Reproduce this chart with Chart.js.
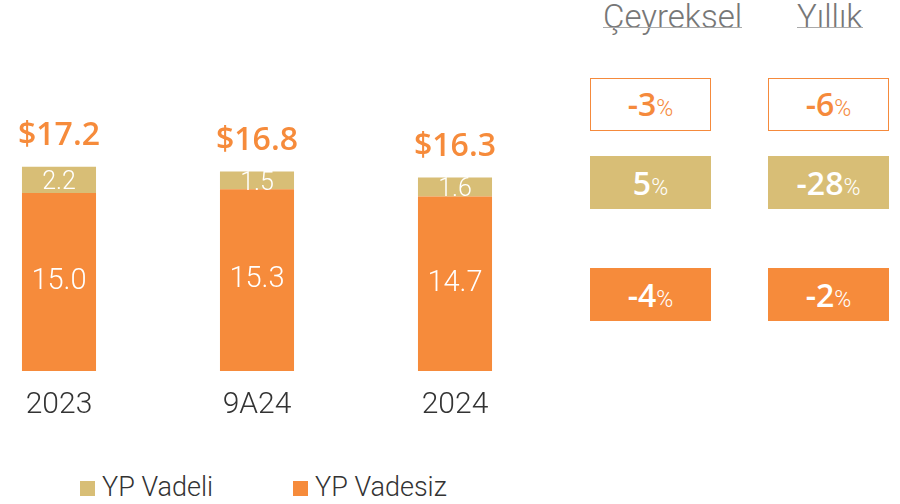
<!DOCTYPE html>
<html>
<head>
<meta charset="utf-8">
<script src="https://cdn.jsdelivr.net/npm/chart.js@4.4.1/dist/chart.umd.min.js"></script>
<style>
  html, body { margin: 0; padding: 0; background: #fff; }
  body { width: 900px; height: 504px; position: relative; overflow: hidden; font-family: Roboto, "Open Sans", sans-serif; }
  #chartBox { position: absolute; left: -40px; top: 0; width: 594px; height: 440px; }
  .head { position: absolute; top: -2px; font-size: 33px; font-weight: 300; color: #777; line-height: 38px; }
  .head u { position: absolute; left: 0; right: 0; top: 29px; height: 1px; background: #aaa; }
  .box { position: absolute; width: 121px; height: 53px; box-sizing: border-box; display: flex;
         align-items: baseline; justify-content: center; color: #fff; line-height: 53px; }
  .box b { font-family: "Open Sans", sans-serif; font-weight: 600; font-size: 32px; }
  .box span { font-weight: 300; font-size: 23px; }
  .outline { border: 1.5px solid #F58A3C; color: #F58A3C; background: #fff; line-height: 50px; }
  .legend { position: absolute; top: 470px; font-size: 27px; font-weight: 300; color: #333; line-height: 34px; }
  .legend i { position: absolute; left: -22px; top: 11px; width: 15px; height: 15px; }
</style>
</head>
<body>
<div id="chartBox"><canvas id="fxChart"></canvas></div>
<div id="side"></div>
<div id="legend"></div>
<script>
// categories and series
const periods = ["2023", "9A24", "2024"];
const seriesNames = ["YP Vadeli", "YP Vadesiz"];
const vadesiz = [15.0, 15.3, 14.7];
const vadeli = [2.2, 1.5, 1.6];
const totals = [17.2, 16.8, 16.3];

// growth table on the right
const changeCols = ["Çeyreksel", "Yıllık"];
const totalChange = [-3, -6];
const vadeliChange = [5, -28];
const vadesizChange = [-4, -2];

const ORANGE = "#F68B3B";
const TAN = "#D8BE76";

// labels inside bars + totals above
const barLabels = {
  id: "barLabels",
  afterDatasetsDraw(chart) {
    const ctx = chart.ctx;
    ctx.save();
    ctx.textAlign = "center";
    ctx.textBaseline = "middle";
    chart.data.datasets.forEach((ds, di) => {
      chart.getDatasetMeta(di).data.forEach((bar, i) => {
        const mid = (bar.y + bar.base) / 2;
        ctx.fillStyle = "#fff";
        ctx.font = di === 0 ? "300 29px Roboto" : "300 25px Roboto";
        ctx.fillText(ds.data[i].toFixed(1), bar.x, mid + (di === 0 ? 0 : 3));
      });
    });
    const top = chart.getDatasetMeta(1).data;
    ctx.fillStyle = ORANGE;
    ctx.font = "600 32px 'Open Sans'";
    top.forEach((bar, i) => {
      ctx.fillText("$" + totals[i].toFixed(1), bar.x, bar.y - 31);
    });
    ctx.restore();
  }
};

new Chart(document.getElementById("fxChart"), {
  type: "bar",
  data: {
    labels: periods,
    datasets: [
      { label: seriesNames[1], data: vadesiz, backgroundColor: ORANGE },
      { label: seriesNames[0], data: vadeli, backgroundColor: TAN }
    ]
  },
  options: {
    responsive: true,
    maintainAspectRatio: false,
    animation: false,
    layout: { padding: 0 },
    datasets: { bar: { categoryPercentage: 1, barPercentage: 0.374 } },
    scales: {
      x: {
        stacked: true,
        grid: { display: false, drawTicks: false },
        border: { display: false },
        ticks: { color: "#333", font: { family: "Roboto", size: 30, weight: "300" }, padding: 16 },
        afterFit: (axis) => { axis.height = 69; }
      },
      y: { stacked: true, display: false, min: 0, max: 31.25 }
    },
    plugins: { legend: { display: false }, tooltip: { enabled: false } }
  },
  plugins: [barLabels]
});

// right-hand table
const side = document.getElementById("side");
const colX = [591, 769];
const headX = [603, 797];
changeCols.forEach((name, c) => {
  const h = document.createElement("div");
  h.className = "head";
  h.style.left = headX[c] + "px";
  h.innerHTML = name + "<u></u>";
  side.appendChild(h);
  const rows = [
    { v: totalChange[c], y: 78, cls: "outline" },
    { v: vadeliChange[c], y: 156, bg: TAN },
    { v: vadesizChange[c], y: 268, bg: ORANGE }
  ];
  rows.forEach(r => {
    const b = document.createElement("div");
    b.className = "box" + (r.cls ? " " + r.cls : "");
    b.style.left = (colX[c] - 1) + "px";
    b.style.top = r.y + "px";
    if (r.bg) b.style.background = r.bg;
    b.innerHTML = "<b>" + r.v + "</b><span>%</span>";
    side.appendChild(b);
  });
});

// legend
const legend = document.getElementById("legend");
const legendX = [102, 315];
const legendColors = [TAN, ORANGE];
seriesNames.forEach((n, i) => {
  const d = document.createElement("div");
  d.className = "legend";
  d.style.left = legendX[i] + "px";
  d.innerHTML = "<i style='background:" + legendColors[i] + "'></i>" + n;
  legend.appendChild(d);
});
</script>
</body>
</html>
